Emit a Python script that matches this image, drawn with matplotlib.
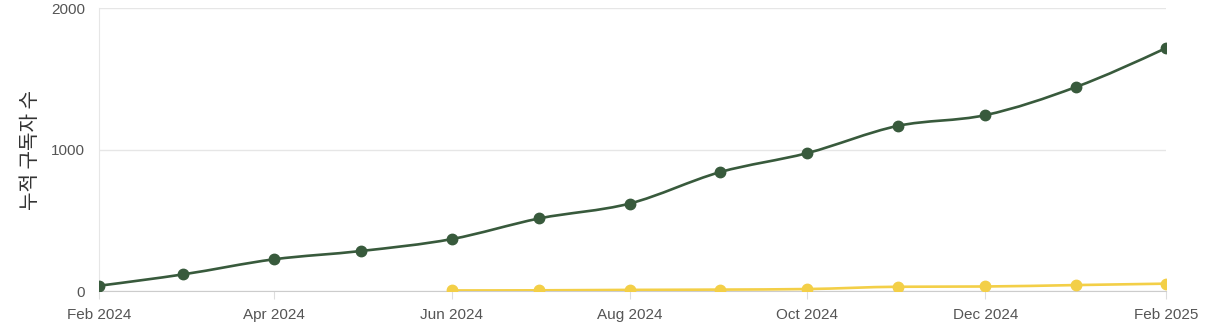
import numpy as np
import matplotlib
matplotlib.use("Agg")
import matplotlib.pyplot as plt
import matplotlib.dates as mdates
from matplotlib.path import Path
from matplotlib.patches import PathPatch
from datetime import date

plt.rcParams["font.family"] = ["Noto Sans CJK KR", "DejaVu Sans"]

months = ["2024-02", "2024-03", "2024-04", "2024-05", "2024-06", "2024-07", "2024-08",
          "2024-09", "2024-10", "2024-11", "2024-12", "2025-01", "2025-02"]
total_subs = [37, 118, 224, 283, 367, 513, 618, 840, 975, 1167, 1243, 1441, 1717]
paid_months = months[4:]
paid_subs = [4, 5, 8, 10, 14, 30, 32, 42, 52]

green = "#385a3c"
yellow = "#f3cf47"


def to_dates(ms):
    return [date(int(m[:4]), int(m[5:]), 1) for m in ms]


def monotone_path(xs, ys):
    # monotone-x cubic bezier, like d3.curveMonotoneX
    xs = np.asarray(xs, float)
    ys = np.asarray(ys, float)
    n = len(xs)
    h = np.diff(xs)
    s = np.diff(ys) / h
    t = np.zeros(n)
    for i in range(1, n - 1):
        if s[i - 1] * s[i] <= 0:
            t[i] = 0
        else:
            p = (s[i - 1] * h[i] + s[i] * h[i - 1]) / (h[i - 1] + h[i])
            t[i] = (np.sign(s[i - 1]) + np.sign(s[i])) * min(abs(s[i - 1]), abs(s[i]), 0.5 * abs(p))
    t[0] = (3 * s[0] - t[1]) / 2 if n > 2 else s[0]
    t[-1] = (3 * s[-1] - t[-2]) / 2 if n > 2 else s[-1]
    verts = [(xs[0], ys[0])]
    codes = [Path.MOVETO]
    for i in range(n - 1):
        dx = h[i] / 3
        verts += [(xs[i] + dx, ys[i] + dx * t[i]),
                  (xs[i + 1] - dx, ys[i + 1] - dx * t[i + 1]),
                  (xs[i + 1], ys[i + 1])]
        codes += [Path.CURVE4] * 3
    return Path(verts, codes)


fig = plt.figure(figsize=(12.14, 3.34), dpi=100)
ax = fig.add_axes([0.0815, 0.1287, 0.879, 0.8473])

for ms, vals, col, z in [(paid_months, paid_subs, yellow, 3), (months, total_subs, green, 4)]:
    xd = mdates.date2num(to_dates(ms))
    ax.add_patch(PathPatch(monotone_path(xd, vals), facecolor="none", edgecolor=col,
                           lw=1.9, zorder=z, capstyle="round"))
    ax.plot(xd, vals, linestyle="none", marker="o", markersize=7.5, color=col, zorder=z + 0.5)

ax.set_xlim(mdates.date2num(date(2024, 2, 1)), mdates.date2num(date(2025, 2, 1)))
ax.set_ylim(0, 2000)
ax.set_yticks([0, 1000, 2000])
ticks = to_dates(months[::2])
ax.set_xticks(mdates.date2num(ticks))
ax.set_xticklabels([d.strftime("%b %Y") for d in ticks])

ax.grid(axis="y", color="#e6e6e6", lw=1)
ax.set_axisbelow(True)
for side in ["top", "right"]:
    ax.spines[side].set_visible(False)
ax.spines["left"].set_color("#e6e6e6")
ax.spines["bottom"].set_color("#cccccc")
ax.tick_params(axis="y", length=0, pad=10, labelsize=11, labelcolor="#555555")
ax.tick_params(axis="x", length=6, color="#dddddd", pad=6, labelsize=11, labelcolor="#555555")
for lab in ax.get_xticklabels() + ax.get_yticklabels():
    lab.set_family(["Liberation Sans", "DejaVu Sans"])

ax.set_ylabel("누적 구독자 수", fontsize=14.5, color="#333333")
ax.yaxis.set_label_coords(-0.054, 0.5)

fig.savefig("out.png", dpi=100)
